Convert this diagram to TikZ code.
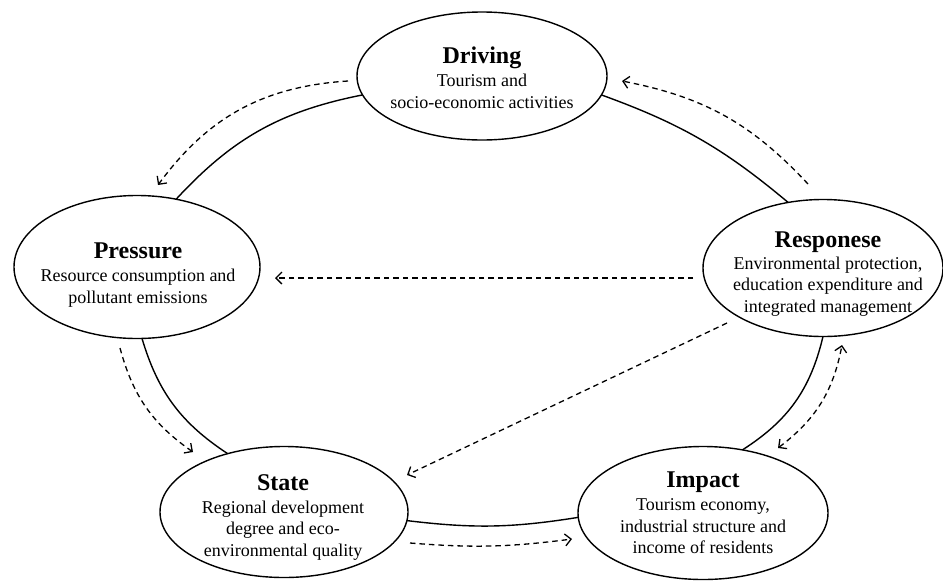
\documentclass[tikz,border=0pt]{standalone}
\usepackage{fontspec}
\setmainfont{Liberation Serif}
\usetikzlibrary{shapes.geometric,arrows.meta}
\newcommand{\dpsrttl}[1]{{\fontsize{24}{24}\selectfont\bfseries #1}}
\begin{document}
\begin{tikzpicture}[x=1pt,y=-1pt,
  >={Straight Barb[length=6pt,width=12pt]},
  ell/.style={ellipse,draw,line width=1.4pt,inner sep=0pt,outer sep=0pt},
  txt/.style={align=center,inner sep=0pt,anchor=north,font=\fontsize{18}{21.5}\selectfont},
  link/.style={line width=1.4pt},
  flow/.style={line width=1.3pt,dash pattern=on 5.5pt off 4pt,->},
  flowtwo/.style={line width=1.3pt,dash pattern=on 5.5pt off 4pt,<->}]
\useasboundingbox (0,0) rectangle (943,582);
% ellipses
\node[ell,minimum width=250pt,minimum height=128pt] (drv) at (482,76) {};
\node[ell,minimum width=246pt,minimum height=143pt] (prs) at (137,267) {};
\node[ell,minimum width=240pt,minimum height=137pt] (res) at (823,268) {};
\node[ell,minimum width=248pt,minimum height=131pt] (sta) at (284,512) {};
\node[ell,minimum width=250pt,minimum height=133pt] (imp) at (703,513) {};
% texts
\node[txt] (drvt) at (482,47) {\dpsrttl{Driving}\\[1.5pt]Tourism and\\socio-economic activities};
\node[txt] (prst) at (138,243) {\dpsrttl{Pressure}\\[1.5pt]Resource consumption and\\pollutant emissions};
\node[txt] (rest) at (828,232) {\dpsrttl{Responese}\\[0pt]Environmental protection,\\education expenditure and\\integrated management};
\node[txt] (stat) at (283,474) {\dpsrttl{State}\\[1.5pt]Regional development\\degree and eco-\\environmental quality};
\node[txt] (impt) at (703,472) {\dpsrttl{Impact}\\[1.5pt]Tourism economy,\\industrial structure and\\income of residents};
% solid ring
\draw[link] (drv.189) to[bend right=18] (prs.60);
\draw[link] (prs.274) to[bend right=20] (sta.134);
\draw[link] (sta.-4) to[bend right=8] (imp.182);
\draw[link] (imp.58) to[bend right=22] (res.270);
\draw[link] (res.118) to[bend right=10] (drv.-9);
% dashed flows
\coordinate (d1s) at (348,81);  \coordinate (d1e) at (158,185);
\coordinate (d2s) at (808,184); \coordinate (d2e) at (622,81);
\coordinate (d3s) at (693,278); \coordinate (d3e) at (275,278);
\coordinate (d4s) at (727,323); \coordinate (d4e) at (407,475);
\coordinate (d5s) at (120,348); \coordinate (d5e) at (193,452);
\coordinate (d6s) at (410,543); \coordinate (d6e) at (572,539);
\coordinate (d7s) at (778,448); \coordinate (d7e) at (842,345);
\draw[flow] (d1s) to[bend right=25] (d1e);
\draw[flow] (d2s) to[bend right=18] (d2e);
\draw[flow] (d3s) -- (d3e);
\draw[flow] (d4s) -- (d4e);
\draw[flow] (d5s) to[bend right=20] (d5e);
\draw[flow] (d6s) to[bend right=6] (d6e);
\draw[flowtwo] (d7s) to[bend right=21] (d7e);
\end{tikzpicture}
\end{document}
